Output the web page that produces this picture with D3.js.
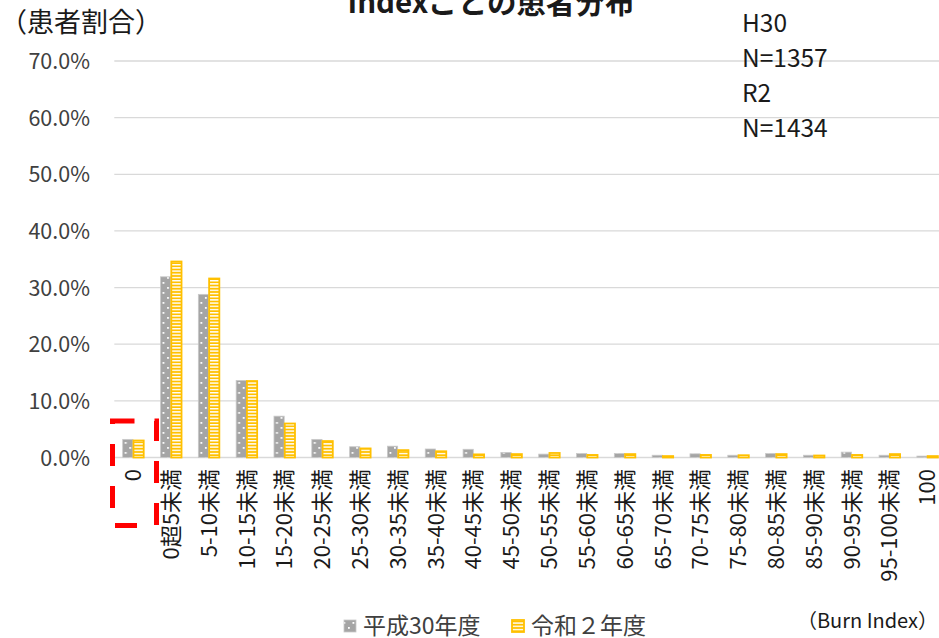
<!DOCTYPE html>
<html>
<head>
<meta charset="utf-8">
<script src="https://cdn.jsdelivr.net/npm/d3@7"></script>
<style>
  html, body { margin: 0; padding: 0; background: #fff; }
  svg { display: block; font-family: "Noto Sans CJK JP", "Noto Sans", sans-serif; }
</style>
</head>
<body>
<svg id="chart" width="939" height="638"></svg>
<script>
const categories = ["0","0超5未満","5-10未満","10-15未満","15-20未満","20-25未満","25-30未満","30-35未満","35-40未満","40-45未満","45-50未満","50-55未満","55-60未満","60-65未満","65-70未満","70-75未満","75-80未満","80-85未満","85-90未満","90-95未満","95-100未満","100"];
const seriesNames = ["平成30年度", "令和２年度"];
const h30 = [3.2, 31.9, 28.8, 13.6, 7.3, 3.2, 1.9, 2.0, 1.5, 1.45, 0.9, 0.6, 0.7, 0.7, 0.4, 0.65, 0.4, 0.7, 0.4, 0.95, 0.4, 0.25];
const r2  = [3.0, 34.6, 31.6, 13.5, 6.0, 2.9, 1.6, 1.3, 1.1, 0.55, 0.6, 0.8, 0.45, 0.6, 0.25, 0.45, 0.4, 0.6, 0.35, 0.45, 0.6, 0.25];
const yTicks = [0, 0.1, 0.2, 0.3, 0.4, 0.5, 0.6, 0.7];
const chartTitle = "Indexごとの患者分布";
const yTitle = "（患者割合）";
const xTitle = "（Burn Index）";
const notes = ["H30", "N=1357", "R2", "N=1434"];

const svg = d3.select("#chart");
const defs = svg.append("defs");

// dotted gray pattern
const pg = defs.append("pattern").attr("id", "dots").attr("patternUnits", "userSpaceOnUse")
  .attr("width", 9).attr("height", 10);
pg.append("rect").attr("width", 9).attr("height", 10).attr("fill", "#A5A5A5");
pg.append("rect").attr("x", 1.5).attr("y", 2).attr("width", 1.8).attr("height", 1.8).attr("fill", "#fff");
pg.append("rect").attr("x", 6).attr("y", 7).attr("width", 1.8).attr("height", 1.8).attr("fill", "#fff");

// yellow horizontal stripes pattern
const py = defs.append("pattern").attr("id", "stripes").attr("patternUnits", "userSpaceOnUse")
  .attr("width", 10).attr("height", 3.2);
py.append("rect").attr("width", 10).attr("height", 3.2).attr("fill", "#FFC000");
py.append("rect").attr("y", 1.6).attr("width", 10).attr("height", 1.4).attr("fill", "#fff");

const plotLeft = 114.3, plotRight = 946.3, plotTop = 61, plotBottom = 457.5;

const x0 = d3.scaleBand().domain(categories).range([plotLeft, plotRight]).paddingInner(0).paddingOuter(0);
const bw = x0.bandwidth();
const x1 = d3.scaleBand().domain(seriesNames).range([bw / 2 - 10.5, bw / 2 + 10.5]).paddingInner(0.05);
const y = d3.scaleLinear().domain([0, 0.7]).range([plotBottom, plotTop]);

// gridlines
svg.append("g").selectAll("line").data(yTicks).join("line")
  .attr("x1", plotLeft).attr("x2", 939)
  .attr("y1", d => y(d)).attr("y2", d => y(d))
  .attr("stroke", "#D9D9D9").attr("stroke-width", 1.3);

// y axis labels
const yAxis = d3.axisLeft(y).tickValues(yTicks).tickFormat(d3.format(".1%")).tickSize(0).tickPadding(0);
const yg = svg.append("g").attr("transform", "translate(90,0)").call(yAxis);
yg.select(".domain").remove();
yg.selectAll("text").attr("font-size", 21.5).attr("fill", "#404040")
  .attr("font-family", "'Noto Sans CJK JP', sans-serif").attr("dy", "0.35em");

// bars
const data = categories.map((c, i) => ({ c, vals: [
  { s: seriesNames[0], v: h30[i] / 100 },
  { s: seriesNames[1], v: r2[i] / 100 }
]}));

const groups = svg.append("g").selectAll("g").data(data).join("g")
  .attr("transform", d => `translate(${x0(d.c)},0)`);

groups.selectAll("rect").data(d => d.vals).join("rect")
  .attr("x", d => x1(d.s))
  .attr("width", x1.bandwidth())
  .attr("y", d => y(d.v))
  .attr("height", d => Math.max(0, y(0) - y(d.v)))
  .attr("fill", d => d.s === seriesNames[0] ? "url(#dots)" : "url(#stripes)")
  .attr("stroke", d => d.s === seriesNames[0] ? "#C9C9C9" : "#FFC000")
  .attr("stroke-width", d => d.s === seriesNames[0] ? 0.8 : 1.8);

// x labels (rotated)
svg.append("g").selectAll("text").data(categories).join("text")
  .attr("transform", d => `translate(${x0(d) + bw / 2},469) rotate(-90)`)
  .attr("text-anchor", "end")
  .attr("dy", "0.36em")
  .attr("font-size", 22)
  .attr("fill", "#1a1a1a")
  .text(d => d);

// red dashed highlight around "0"
svg.append("path")
  .attr("d", "M112.5,421 H156.5 V525.5 H112.5 Z")
  .attr("fill", "none").attr("stroke", "#FF0000").attr("stroke-width", 5)
  .attr("stroke-dasharray", "22,20");

// title (upper part cut off, as in the reference)
svg.append("text").attr("x", 491).attr("y", 13).attr("text-anchor", "middle")
  .attr("font-size", 29.5).attr("font-weight", "bold").attr("fill", "#1a1a1a")
  .text(chartTitle);

// y title
svg.append("text").attr("x", 0).attr("y", 32).attr("font-size", 27).attr("fill", "#1a1a1a")
  .text(yTitle);

// notes
svg.append("g").selectAll("text").data(notes).join("text")
  .attr("x", 742).attr("y", (d, i) => 31.5 + i * 35.2)
  .attr("font-size", 24.5).attr("fill", "#1a1a1a")
  .text(d => d);

// legend
const legend = svg.append("g");
const legendItems = [
  { s: seriesNames[0], mx: 344, tx: 363, fill: "url(#dots)", stroke: "#C9C9C9" },
  { s: seriesNames[1], mx: 512, tx: 531, fill: "url(#stripes)", stroke: "#FFC000" }
];
legend.selectAll("rect").data(legendItems).join("rect")
  .attr("x", d => d.mx).attr("y", 620).attr("width", 12).attr("height", 12)
  .attr("fill", d => d.fill).attr("stroke", d => d.stroke).attr("stroke-width", d => d.stroke === "#FFC000" ? 1.8 : 0.8);
legend.selectAll("text").data(legendItems).join("text")
  .attr("x", d => d.tx).attr("y", 634)
  .attr("font-size", 23).attr("fill", "#404040")
  .text(d => d.s);

// x title
svg.append("text").attr("x", 938).attr("y", 628).attr("text-anchor", "end")
  .attr("font-size", 20).attr("fill", "#1a1a1a")
  .text(xTitle);
</script>
</body>
</html>
